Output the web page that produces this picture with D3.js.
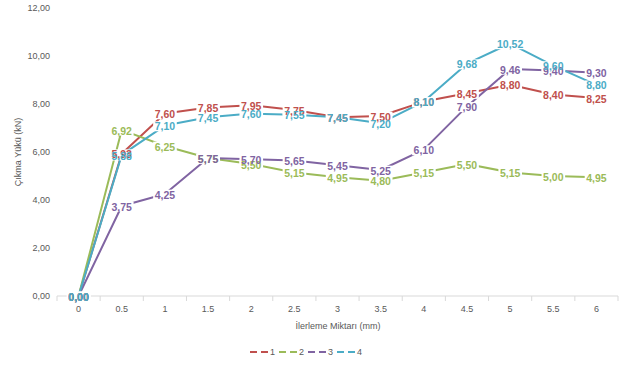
<!DOCTYPE html>
<html>
<head>
<meta charset="utf-8">
<script src="https://cdn.jsdelivr.net/npm/d3@7"></script>
<style>
  body { margin: 0; background: #fff; }
  svg text { font-family: "Liberation Sans", Arial, sans-serif; }
</style>
</head>
<body>
<svg id="chart" width="619" height="365"></svg>
<script>
// categories on the x axis (mm)
let categories = ["0", "0.5", "1", "1.5", "2", "2.5", "3", "3.5", "4", "4.5", "5", "5.5", "6"];
let yTicks = [0, 2, 4, 6, 8, 10, 12];
let seriesNames = ["1", "2", "3", "4"];
let s1 = [0, 5.93, 7.60, 7.85, 7.95, 7.75, 7.45, 7.50, 8.10, 8.45, 8.80, 8.40, 8.25];
let s2 = [0, 6.92, 6.25, 5.75, 5.50, 5.15, 4.95, 4.80, 5.15, 5.50, 5.15, 5.00, 4.95];
let s3 = [0, 3.75, 4.25, 5.75, 5.70, 5.65, 5.45, 5.25, 6.10, 7.90, 9.46, 9.40, 9.30];
let s4 = [0, 5.88, 7.10, 7.45, 7.60, 7.55, 7.45, 7.20, 8.10, 9.68, 10.52, 9.60, 8.80];
let seriesColors = ["#C0504D", "#9BBB59", "#8064A2", "#4BACC6"];

let allSeries = [s1, s2, s3, s4];
let fmt = v => v.toFixed(2).replace(".", ",");

let svg = d3.select("#chart");
let plotLeft = 57, plotRight = 618, plotTop = 8, plotBottom = 296;

let x = d3.scaleBand().domain(categories).range([plotLeft, plotRight]);
let y = d3.scaleLinear().domain([0, 12]).range([plotBottom, plotTop]);

// y axis labels, no line
svg.append("g")
  .attr("transform", "translate(" + plotLeft + ",0)")
  .call(d3.axisLeft(y).tickValues(yTicks).tickFormat(fmt).tickSize(0).tickPadding(7))
  .call(g => g.select(".domain").remove())
  .selectAll("text")
  .attr("fill", "#595959")
  .style("font-size", "9px");

// x axis with ticks between categories
let xAxis = svg.append("g").attr("transform", "translate(0," + plotBottom + ")");
xAxis.append("line")
  .attr("x1", plotLeft).attr("x2", plotRight)
  .attr("stroke", "#d9d9d9").attr("stroke-width", 1);
let bounds = categories.map(c => x(c)).concat([plotRight]);
xAxis.selectAll(".tk").data(bounds).enter().append("line")
  .attr("x1", d => d).attr("x2", d => d)
  .attr("y1", 0).attr("y2", 5)
  .attr("stroke", "#d9d9d9");
xAxis.selectAll(".lbl").data(categories).enter().append("text")
  .attr("x", d => x(d) + x.bandwidth() / 2)
  .attr("y", 16)
  .attr("text-anchor", "middle")
  .attr("fill", "#595959")
  .style("font-size", "9px")
  .text(d => d);

// axis titles
svg.append("text")
  .attr("x", 338).attr("y", 329)
  .attr("text-anchor", "middle")
  .attr("fill", "#595959")
  .style("font-size", "9px")
  .text("İlerleme Miktarı (mm)");
svg.append("text")
  .attr("transform", "translate(21,152) rotate(-90)")
  .attr("text-anchor", "middle")
  .attr("fill", "#595959")
  .style("font-size", "9px")
  .text("Çıkma Yükü (kN)");

// lines
let line = d3.line()
  .x((d, i) => x(categories[i]) + x.bandwidth() / 2)
  .y(d => y(d));

allSeries.forEach((s, k) => {
  svg.append("path")
    .datum(s)
    .attr("d", line)
    .attr("fill", "none")
    .attr("stroke", seriesColors[k])
    .attr("stroke-width", 2)
    .attr("stroke-linejoin", "round");
});

// data labels: white boxes break the lines, texts all on top
let boxLayer = svg.append("g");
let textLayer = svg.append("g");
allSeries.forEach((s, k) => {
  s.forEach((v, i) => {
    let cx = x(categories[i]) + x.bandwidth() / 2, cy = y(v) + 1;
    let t = textLayer.append("text")
      .attr("x", cx).attr("y", cy)
      .attr("text-anchor", "middle")
      .attr("dy", "0.35em")
      .attr("fill", seriesColors[k])
      .style("font-size", "10.5px")
      .style("font-weight", "bold")
      .text(fmt(v));
    let bb = t.node().getBBox();
    boxLayer.append("rect")
      .attr("x", bb.x - 1.5).attr("y", bb.y + 1)
      .attr("width", bb.width + 3).attr("height", bb.height - 2)
      .attr("fill", "#fff");
  });
});

// legend
let legend = svg.append("g").attr("transform", "translate(250,352)");
seriesNames.forEach((name, k) => {
  let item = legend.append("g").attr("transform", "translate(" + (k * 29) + ",0)");
  item.append("line")
    .attr("x1", 0).attr("x2", 18)
    .attr("stroke", seriesColors[k]).attr("stroke-width", 2)
    .attr("stroke-dasharray", "7,4,7");
  item.append("text")
    .attr("x", 20).attr("y", 3)
    .attr("fill", "#595959")
    .style("font-size", "9px")
    .text(name);
});
</script>
</body>
</html>
